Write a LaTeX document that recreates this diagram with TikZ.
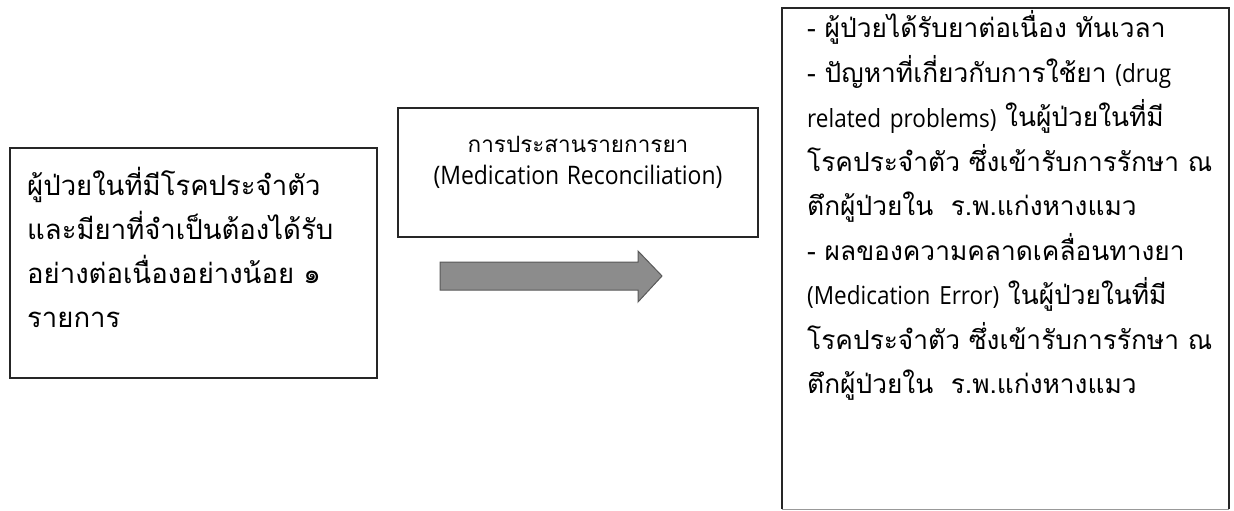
\documentclass[tikz,border=0pt]{standalone}
\usepackage{fontspec}
\newfontfamily\thai[Script=Thai]{Loma}
\newfontfamily\latinfont[FakeStretch=0.9]{Open Sans}
\newcommand\latR[1]{{\latinfont\fontsize{25}{44.5}\selectfont #1}}
\newcommand\latM[1]{{\latinfont\fontsize{25.5}{32}\selectfont #1}}
\begin{document}
\begin{tikzpicture}[x=1pt,y=-1pt,
  box/.style={draw=black!85,line width=1.5pt},
  bigtext/.style={inner sep=0pt,anchor=base west,align=left,text width=#1},
  lefttextstyle/.style={bigtext=400pt,font=\thai\fontsize{27.5}{44}\selectfont},
  righttextstyle/.style={bigtext=480pt,font=\thai\fontsize{26.3}{44.5}\selectfont},
  midtext/.style={inner sep=0pt,anchor=base,align=center,text width=360pt,
    font=\thai\fontsize{22.5}{32}\selectfont}]
\useasboundingbox (0,0) rectangle (1234,511);
% boxes
\draw[box] (10,148) rectangle (377,378);
\draw[box] (398,108) rectangle (758,237);
\draw[box] (782,509) -- (782,8) -- (1229,8) -- (1229,509);
\draw[draw=black!40,line width=1pt] (782,509) -- (1229,509);
% texts
\node[lefttextstyle] (lefttext) at (27,195)
  {ผู้ป่วยในที่มีโรคประจำตัว\\และมียาที่จำเป็นต้องได้รับ\\อย่างต่อเนื่องอย่างน้อย ๑\\รายการ};
\node[midtext] (midtext) at (578,152)
  {การประสานรายการยา\\\latM{(Medication Reconciliation)}};
\node[righttextstyle] (righttext) at (807,38)
  {- ผู้ป่วยได้รับยาต่อเนื่อง ทันเวลา\\
   - ปัญหาที่เกี่ยวกับการใช้ยา \latR{(drug}\\
   \latR{related problems)} ในผู้ป่วยในที่มี\\
   โรคประจำตัว ซึ่งเข้ารับการรักษา ณ\\
   ตึกผู้ป่วยใน\ \ ร.พ.แก่งหางแมว\\
   - ผลของความคลาดเคลื่อนทางยา\\
   \latR{(Medication Error)} ในผู้ป่วยในที่มี\\
   โรคประจำตัว ซึ่งเข้ารับการรักษา ณ\\
   ตึกผู้ป่วยใน\ \ ร.พ.แก่งหางแมว};
% arrow
\draw[fill=black!45,draw=black!65,line width=1pt]
  (440,262) -- (638,262) -- (638,251) -- (662,276) -- (638,302) -- (638,290) -- (440,290) -- cycle;
\end{tikzpicture}
\end{document}
